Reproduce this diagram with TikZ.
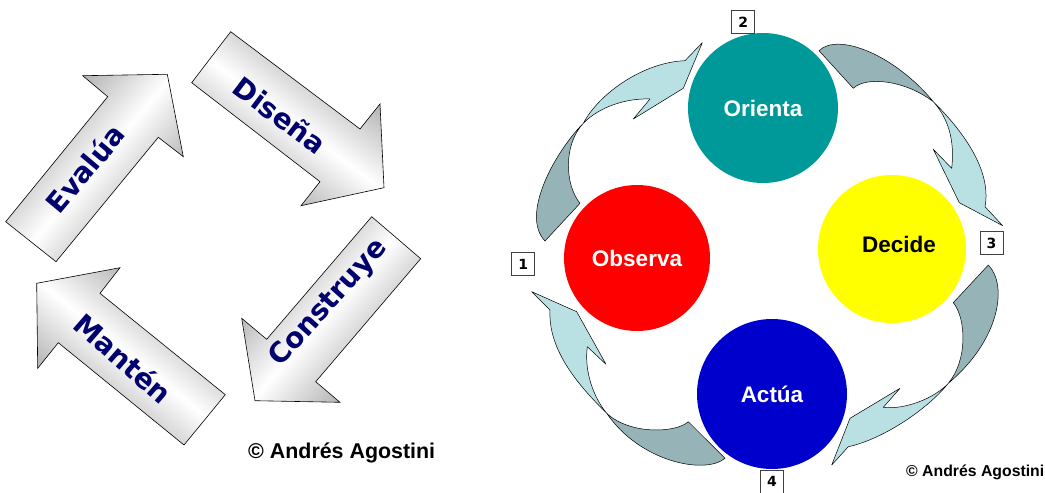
\documentclass[tikz,border=0pt]{standalone}
\usepackage{fontspec}
\setmainfont{Liberation Sans}
\newfontfamily\numfont{DejaVu Sans}
\definecolor{navy}{RGB}{0,0,110}
\definecolor{arrdark}{RGB}{150,180,183}
\definecolor{arrlight}{RGB}{185,224,227}
\definecolor{orcol}{RGB}{0,153,153}
\definecolor{obcol}{RGB}{255,0,0}
\definecolor{decol}{RGB}{255,255,0}
\definecolor{accol}{RGB}{0,0,204}
\begin{document}
\begin{tikzpicture}[x=1pt,y=-1pt,
  blk/.style={draw=black,line width=0.6pt,shading=axis,left color=black!40,right color=black!40,middle color=white},
  blktext/.style={font=\numfont\bfseries\fontsize{28}{28}\selectfont,text=navy,inner sep=0pt},
  dk/.style={fill=arrdark,draw=black,line width=0.5pt,line join=round},
  lt/.style={fill=arrlight,draw=black,line width=0.5pt,line join=round},
  ball/.style={circle,inner sep=0pt,minimum size=#1},
  balltext/.style={font=\bfseries\fontsize{22.5}{22.5}\selectfont},
  numbox/.style={draw=black!75,line width=0.8pt,minimum width=23pt,minimum height=23pt,inner sep=0pt,font=\numfont\bfseries\fontsize{14}{14}\selectfont},
  copy/.style={font=\bfseries\fontsize{#1}{#1}\selectfont,inner sep=0pt}
]
\useasboundingbox (0,0) rectangle (1045,493);

% ---- left: four block arrows ----
\path[blk,shading angle=50] (5.7,221.7) -- (56,261.7) -- (158.3,137.3) -- (183.3,156.7) -- (167.3,74.3) -- (82.7,75.7) -- (107.7,96.7) -- cycle;
\path[blk,shading angle=-37] (230.7,31.7) -- (191.7,82.7) -- (320,181.7) -- (301,205.7) -- (384,187.7) -- (380,104) -- (360,129) -- cycle;
\path[blk,shading angle=49] (371.7,216.7) -- (420.7,258.7) -- (315.7,381.7) -- (340,402.3) -- (255,400.7) -- (241.7,318.3) -- (266.7,339.3) -- cycle;
\path[blk,shading angle=-39] (225.3,394.7) -- (184,445) -- (58.3,342.7) -- (37.7,368.3) -- (36.7,283.3) -- (120,267.7) -- (100,293.3) -- cycle;

\node[blktext,rotate=50] (eva) at (85,168.3) {Evalúa};
\node[blktext,rotate=-37] (dis) at (280,115) {Diseña};
\node[blktext,rotate=48] (con) at (329,303.3) {Construye};
\node[blktext,rotate=-41] (man) at (123.3,358.3) {Mantén};

\node[copy=21.4] (copyl) at (341.7,452.5) {© Andrés Agostini};

% ---- right: curved arrows ----
% Observa -> Orienta
\path[dk] (545,241) -- (580,203.3) .. controls (565,185) and (563,145) .. (583.3,123.3) .. controls (555,152) and (520,215) .. (545,241) -- cycle;
\path[lt] (583.3,123.3) .. controls (600,92) and (645,62) .. (685,60.7) -- (702.3,42.7) -- (683.3,88.3) -- (633.3,119) -- (650,99) .. controls (628,98) and (600,106) .. (583.3,123.3) -- cycle;
% Orienta -> Decide
\path[dk] (819,50.7) .. controls (838,32) and (895,55) .. (933.3,101.7) .. controls (905,80) and (866,76) .. (853.3,88.3) -- cycle;
\path[lt] (933.3,101.7) .. controls (962,130) and (992,170) .. (985,206.7) -- (1002.7,225.7) -- (959.3,202.7) -- (933.3,149.3) -- (951.7,168.3) .. controls (955,140) and (948,118) .. (933.3,101.7) -- cycle;
% Decide -> Actua
\path[dk] (988.3,265) .. controls (1008,285) and (1000,340) .. (948.3,383.3) .. controls (968,360) and (966,318) .. (953.3,302.7) -- cycle;
\path[lt] (948.3,383.3) .. controls (925,412) and (880,440) .. (848.3,446.7) -- (831.7,465) -- (850,418.3) -- (900,388.3) -- (883.3,407.3) .. controls (905,410) and (935,398) .. (948.3,383.3) -- cycle;
% Actua -> Observa
\path[dk] (725,458.3) .. controls (705,475) and (640,462) .. (606.7,413.3) .. controls (630,435) and (676,433) .. (688.3,421.7) -- cycle;
\path[lt] (606.7,413.3) .. controls (578,385) and (548,350) .. (550,310) -- (531.7,291.7) -- (576.7,311.7) -- (606,364.3) -- (587.3,346.7) .. controls (584,372) and (594,398) .. (606.7,413.3) -- cycle;

% ---- circles ----
\node[ball=150pt,fill=orcol,text=white,balltext] (ori) at (763,108) {Orienta};
\node[ball=146pt,fill=obcol,text=white,balltext] (obs) at (637,258) {Observa};
\node[ball=148pt,fill=decol] (dec) at (892,249) {};
\node[balltext,text=black,inner sep=0pt] (dect) at (899,244) {Decide};
\node[ball=150pt,fill=accol,text=white,balltext] (act) at (772,394) {Actúa};

% ---- number boxes ----
\node[numbox] (n1) at (523.3,264) {1};
\node[numbox] (n2) at (743.3,22) {2};
\node[numbox] (n3) at (991.5,243.3) {3};
\node[numbox] (n4) at (772,481.5) {4};

\node[copy=15.8,anchor=west] (copyr) at (906,472.7) {© Andrés Agostini};
\end{tikzpicture}
\end{document}
